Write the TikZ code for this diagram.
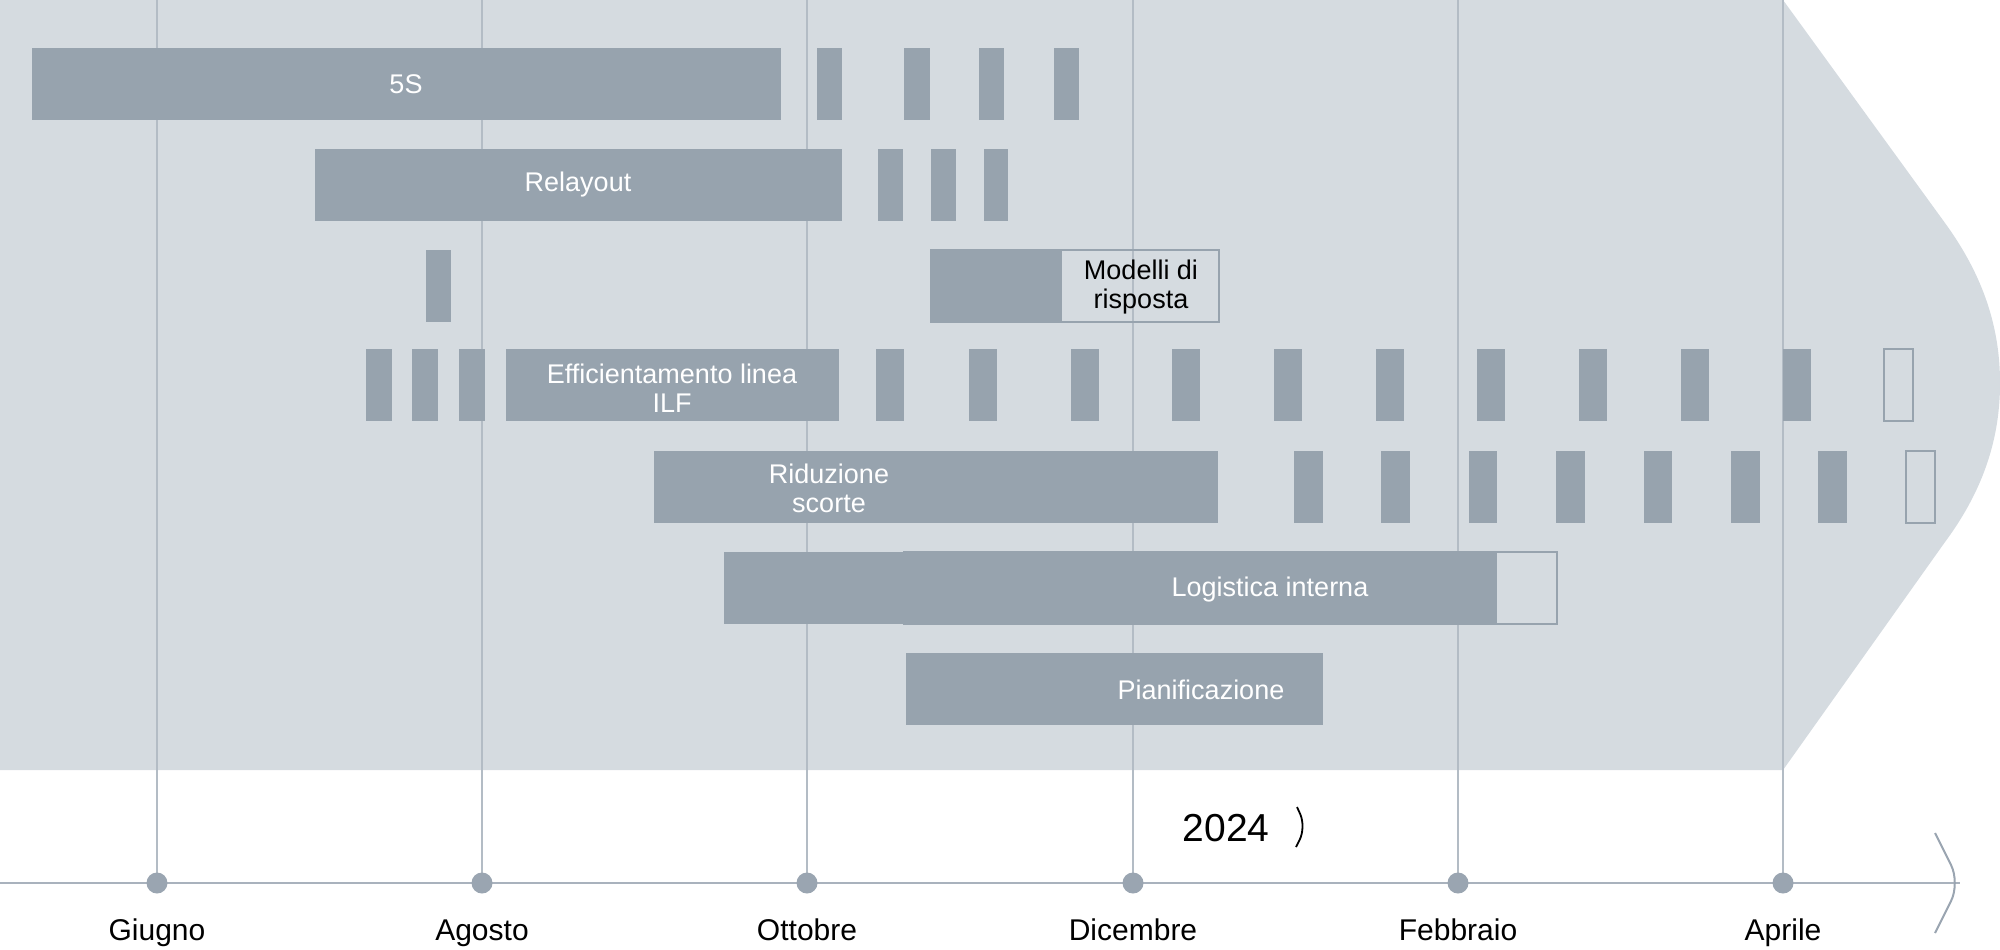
\documentclass[tikz,border=0pt]{standalone}
\usepackage{fontspec}
\setmainfont{Liberation Sans}
\usetikzlibrary{positioning}
\definecolor{ganttBg}{HTML}{D5DBE0}
\definecolor{ganttBar}{HTML}{97A3AE}
\definecolor{ganttRule}{HTML}{B3BCC5}
\definecolor{ganttAxis}{HTML}{9AA5B1}

\tikzset{
  bar/.style={fill=ganttBar, draw=none},
  openbar/.style={draw=ganttBar, line width=1pt},
  barlabel/.style={text=white, align=center, inner sep=0pt, font=\fontsize{13.5}{14.5}\selectfont},
  darklabel/.style={barlabel, text=black},
  monthlabel/.style={anchor=base, inner sep=0pt, font=\fontsize{15}{17}\selectfont},
  monthdot/.style={circle, fill=ganttAxis, inner sep=0pt, minimum size=10.5pt},
  rule/.style={draw=ganttRule, line width=0.65pt},
  chevron/.style={draw=ganttAxis, line width=1pt, rounded corners=10pt}
}

\begin{document}
\begin{tikzpicture}[x=0.5pt, y=-0.5pt]
  \useasboundingbox (0,0) rectangle (2000,949);

  % background band
  \fill[ganttBg] (0,0) -- (1783,0) -- (1945,223)
    .. controls (1985,278) and (2000,330) .. (2000,383)
    .. controls (2000,436) and (1985,488) .. (1945,542)
    -- (1783,770) -- (0,770) -- cycle;

  % time axis
  \coordinate (axis-start) at (0,883);
  \coordinate (axis-end) at (1960,883);
  \draw[ganttAxis!85, line width=1pt] (axis-start) -- (axis-end);
  \draw[chevron] (1935,833) -- (axis-end) -- (1935,933);

  % months
  \foreach \x/\m/\name in {157/Giugno/giu, 482/Agosto/ago, 807/Ottobre/ott,
      1133/Dicembre/dic, 1458/Febbraio/feb, 1783/Aprile/apr}{
    \coordinate (top-\name) at (\x,0);
    \draw[rule] (top-\name) -- (\x,883);
    \node[monthdot] (dot-\name) at (\x,883) {};
    \node[monthlabel] (lbl-\name) at (\x,940) {\m};
  }

  \node[inner sep=0pt, font=\fontsize{19.5}{21}\selectfont] (year) at (1226,828) {2024};
  \draw[chevron, draw=black, line width=0.9pt, rounded corners=7pt] (1297,807) -- (1306,827) -- (1296,847);

  % long bars
  \fill[bar] (32,48) rectangle (781,120);
  \fill[bar] (315,149) rectangle (842,221);
  \fill[bar] (931,250) rectangle (1062,322);
  \draw[openbar] (931,250) rectangle (1219,322);
  \fill[bar] (506,349) rectangle (839,421);
  \fill[bar] (654,451) rectangle (1218,523);
  \fill[bar] (724,552) rectangle (1497,624);
  \draw[openbar] (904,552) rectangle (1557,624);
  \fill[bar] (906,653) rectangle (1323,725);

  % short steps
  \foreach \x/\w in {817/25, 904/26, 979/25, 1054/25}
    \fill[bar] (\x,48) rectangle ++(\w,72);
  \foreach \x/\w in {878/25, 931/25, 984/24}
    \fill[bar] (\x,149) rectangle ++(\w,72);
  \fill[bar] (426,250) rectangle ++(25,72);
  \foreach \x/\w in {366/26, 412/26, 459/26, 876/28, 969/28, 1071/28, 1172/28,
      1274/28, 1376/28, 1477/28, 1579/28, 1681/28, 1783/28}
    \fill[bar] (\x,349) rectangle ++(\w,72);
  \draw[openbar] (1884,349) rectangle ++(29,72);
  \foreach \x/\w in {1294/29, 1381/29, 1469/28, 1556/29, 1644/28, 1731/29, 1818/29}
    \fill[bar] (\x,451) rectangle ++(\w,72);
  \draw[openbar] (1906,451) rectangle ++(29,72);

  % labels
  \node[barlabel] (fives) at (406,84) {5S};
  \node[barlabel] (relayout) at (578,185) {Relayout};
  \node[darklabel] (modelli) at (1141,287) {Modelli di\\risposta};
  \node[barlabel] (ilf) at (672,388) {Efficientamento linea\\ILF};
  \node[barlabel] (scorte) at (829,488) {Riduzione\\scorte};
  \node[barlabel] (logistica) at (1270,590) {Logistica interna};
  \node[barlabel] (pianif) at (1201,690) {Pianificazione};
\end{tikzpicture}
\end{document}
